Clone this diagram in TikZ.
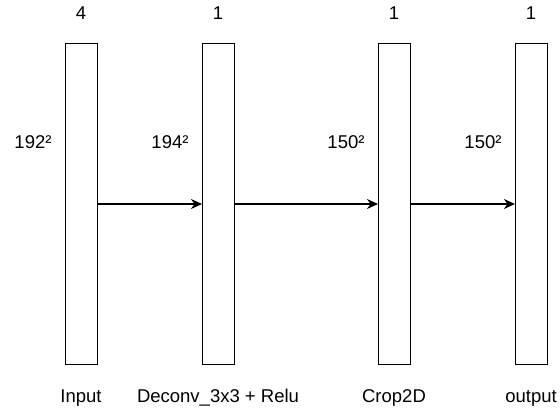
\documentclass[tikz,border=0pt]{standalone}
\usepackage{fontspec}
\setmainfont{Liberation Sans}
\usetikzlibrary{arrows.meta}
\begin{document}
\begin{tikzpicture}[x=1pt,y=-1pt,
  layer/.style={draw=black,line width=1.2pt,fill=white,minimum width=32pt,minimum height=321pt,inner sep=0pt,anchor=north west},
  lbl/.style={font=\fontsize{18.5pt}{21pt}\selectfont,inner sep=0pt},
  flow/.style={line width=1.2pt,-{Stealth[length=11pt,width=10pt,inset=3.5pt]}}]
\useasboundingbox (0,0) rectangle (560,410);
% feature-map columns
\node[layer] (in)   at (65,43) {};
\node[layer] (dc)   at (202,43) {};
\node[layer] (crop) at (378,43) {};
\node[layer] (out)  at (515,43) {};
% channel counts
\node[lbl] (cin)   at (81,13)  {4};
\node[lbl] (cdc)   at (218,13) {1};
\node[lbl] (ccrop) at (394,13) {1};
\node[lbl] (cout)  at (531,13) {1};
% spatial sizes
\node[lbl] (sin)   at (33,142)  {192²};
\node[lbl] (sdc)   at (170,142) {194²};
\node[lbl] (scrop) at (346,142) {150²};
\node[lbl] (sout)  at (483,142) {150²};
% layer names
\node[lbl] (nin)   at (81,398)  {Input};
\node[lbl] (ndc)   at (218,398) {Deconv\_3x3 + Relu};
\node[lbl] (ncrop) at (394,398) {Crop2D};
\node[lbl] (nout)  at (531,398) {output};
% connections
\draw[flow] (in.east |- 0,204) -- (dc.west |- 0,204);
\draw[flow] (dc.east |- 0,204) -- (crop.west |- 0,204);
\draw[flow] (crop.east |- 0,204) -- (out.west |- 0,204);
\end{tikzpicture}
\end{document}
